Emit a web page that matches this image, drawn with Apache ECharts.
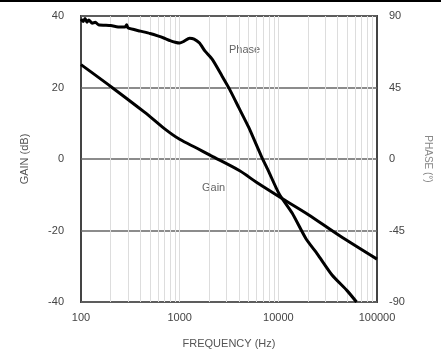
<!DOCTYPE html>
<html><head><meta charset="utf-8">
<script src="https://cdn.jsdelivr.net/npm/echarts@6/dist/echarts.min.js"></script>
<style>html,body{margin:0;padding:0;background:#fff}#c{width:441px;height:354px}</style>
</head><body><div id="c"></div>
<script>
// Data
const phaseFreq = [100,105,110,115,120,130,140,150,200,250,280,290,300,400,500,600,700,800,900,1000,1100,1260,1400,1590,1800,2150,2700,3200,4000,5000,6700,8000,10200,13800,19000,25000,35000,50000,62000];
const phaseDeg  = [88,86.5,88.5,86,87.5,85.5,86,84.5,84,83,83,84.5,82.5,80.5,79,77.5,76,74.5,73.5,73,74,76,75.5,73,68,62.5,52,44,32,20,2,-8,-22,-34,-50,-60,-73,-83,-90];
const gainFreq = [100,200,440,700,1000,1500,2050,4060,6000,11000,20000,41500,100000];
const gainDb   = [26.4,20.3,13.1,8.5,5.5,3,1,-3.3,-6.5,-11.1,-15.5,-21.4,-28];
const freqTicks = [100,1000,10000,100000];
const gainTicks = [-40,-20,0,20,40];
const phaseTicks = [-90,-45,0,45,90];
const minorGridFreqs = [200,300,400,500,600,700,800,900,1000,2000,3000,4000,5000,6000,7000,8000,9000,10000,20000,30000,40000,50000,60000,70000,80000,90000];

const font = 'Liberation Sans';
const chart = echarts.init(document.getElementById('c'), null, {renderer:'canvas'});
chart.setOption({
  animation:false,
  backgroundColor:'#fff',
  grid:{left:81, right:63, top:16, bottom:50, show:true, borderColor:'#444', borderWidth:2, backgroundColor:'transparent'},
  graphic:[
    {type:'rect', left:0, top:0, shape:{width:441, height:2}, style:{fill:'#000'}},
    {type:'text', left:229, top:44, style:{text:'Phase', fill:'#666', font:'11px "Liberation Sans"'}},
    {type:'text', left:202, top:182, style:{text:'Gain', fill:'#666', font:'11px "Liberation Sans"'}}
  ],
  xAxis:{
    type:'log', logBase:10, min:freqTicks[0], max:freqTicks[freqTicks.length-1],
    name:'FREQUENCY (Hz)', nameLocation:'middle', nameGap:36,
    nameTextStyle:{color:'#555', fontSize:11, fontFamily:font},
    axisLine:{show:false}, axisTick:{show:false}, splitLine:{show:false},
    axisLabel:{color:'#444', fontSize:11, fontFamily:font, margin:10, formatter:v=>String(Math.round(v))}
  },
  yAxis:[
    {type:'value', min:gainTicks[0], max:gainTicks[gainTicks.length-1], interval:20,
     name:'GAIN (dB)', nameLocation:'middle', nameGap:51,
     nameTextStyle:{color:'#555', fontSize:11, fontFamily:font},
     axisLine:{show:false}, axisTick:{show:false},
     splitLine:{show:true, lineStyle:{color:'#666', width:1.5}},
     axisLabel:{color:'#444', fontSize:11, fontFamily:font, margin:17}},
    {type:'value', min:phaseTicks[0], max:phaseTicks[phaseTicks.length-1], interval:45,
     name:'PHASE (°)', nameLocation:'middle', nameGap:46, nameRotate:-90,
     nameTextStyle:{color:'#888', fontSize:10, fontFamily:font},
     axisLine:{show:false}, axisTick:{show:false}, splitLine:{show:false},
     axisLabel:{color:'#444', fontSize:11, fontFamily:font, margin:12}}
  ],
  series:[
    {type:'line', yAxisIndex:0, data:[], silent:true, z:0, zlevel:0,
     markLine:{silent:true, symbol:'none', label:{show:false}, animation:false, z:0,
       lineStyle:{color:'#ddd', width:1, type:'solid'},
       data: minorGridFreqs.map(f=>({xAxis:f}))}},
    {name:'Gain', type:'line', yAxisIndex:0, showSymbol:false, smooth:0.3, z:10,
     lineStyle:{color:'#000', width:3}, data: gainFreq.map((f,i)=>[f,gainDb[i]])},
    {name:'Phase', type:'line', yAxisIndex:1, showSymbol:false, smooth:0.2, z:10,
     lineStyle:{color:'#000', width:3}, data: phaseFreq.map((f,i)=>[f,phaseDeg[i]])}
  ]
});
</script></body></html>
